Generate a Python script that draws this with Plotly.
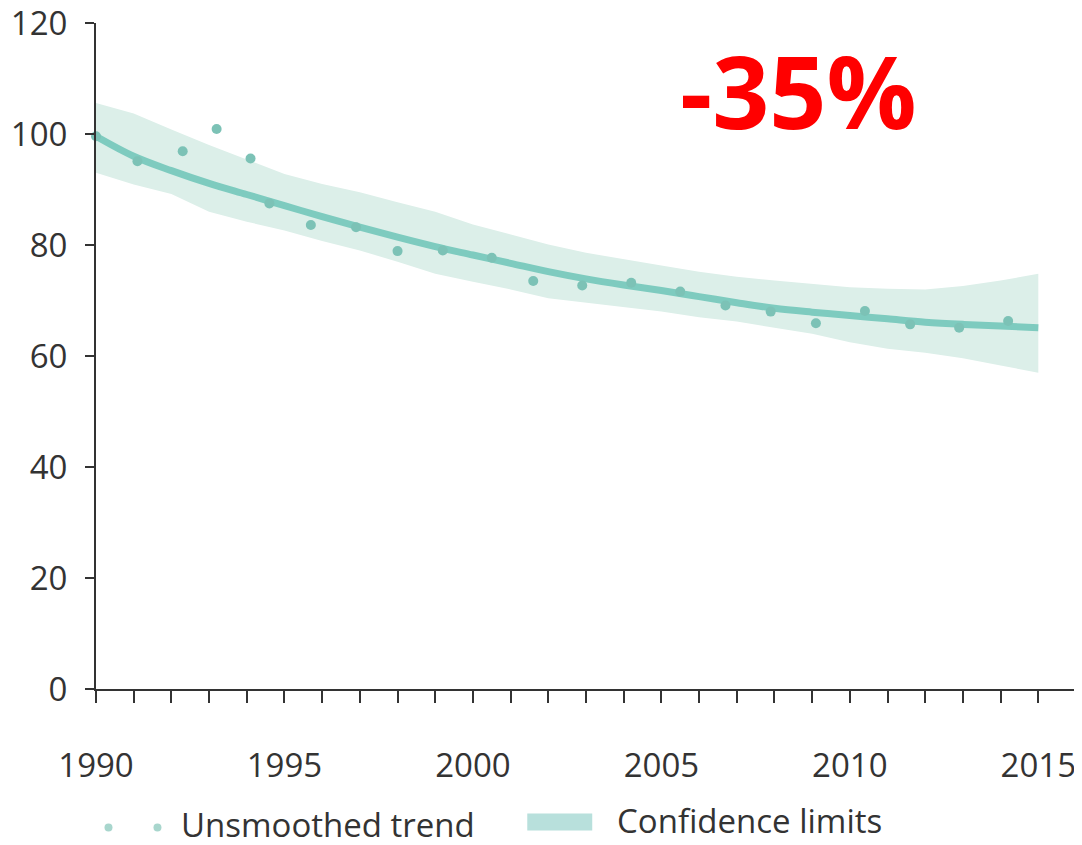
import plotly.graph_objects as go

# ---- data ----
years = list(range(1990, 2016))
trend_smoothed = [99.6, 96.0, 93.4, 91.1, 89.1, 87.1, 85.1, 83.2, 81.4, 79.7,
                  78.2, 76.7, 75.2, 73.9, 72.8, 71.8, 70.7, 69.6, 68.6, 67.9,
                  67.3, 66.7, 66.1, 65.7, 65.4, 65.1]
upper_limit = [105.6, 103.7, 100.8, 98.0, 95.4, 92.8, 91.0, 89.5, 87.7, 86.0,
               83.7, 81.9, 80.1, 78.6, 77.4, 76.3, 75.2, 74.3, 73.6, 73.0,
               72.4, 72.1, 72.0, 72.6, 73.6, 74.8]
lower_limit = [93.0, 90.9, 89.2, 86.0, 84.2, 82.6, 80.7, 79.0, 77.0, 74.8,
               73.4, 72.0, 70.4, 69.6, 68.9, 68.0, 67.0, 66.2, 65.1, 64.0,
               62.5, 61.3, 60.6, 59.6, 58.3, 57.0]
point_years = [1990.0, 1991.1, 1992.3, 1993.2, 1994.1, 1994.6, 1995.7, 1996.9,
               1998.0, 1999.2, 2000.5, 2001.6, 2002.9, 2004.2, 2005.5, 2006.7,
               2007.9, 2009.1, 2010.4, 2011.6, 2012.9, 2014.2]
unsmoothed = [99.6, 95.1, 96.9, 100.9, 95.6, 87.5, 83.6, 83.2, 78.9, 79.0,
              77.7, 73.5, 72.7, 73.2, 71.6, 69.1, 68.0, 65.9, 68.1, 65.7,
              65.1, 66.3]
x_tickvals = [1990, 1995, 2000, 2005, 2010, 2015]
y_tickvals = [0, 20, 40, 60, 80, 100, 120]
legend_labels = ["Unsmoothed trend", "Confidence limits"]
headline = "-35%"

BAND = "#dcefe9"
LINE = "#7ecbbf"
DOT = "#7cc2b6"
AXIS = "#333333"
FONT = "Open Sans"
FS = 33

fig = go.Figure()
fig.add_trace(go.Scatter(x=years, y=upper_limit, mode="lines",
                         line=dict(width=0), hoverinfo="skip", showlegend=False))
fig.add_trace(go.Scatter(x=years, y=lower_limit, mode="lines",
                         line=dict(width=0), fill="tonexty", fillcolor=BAND,
                         hoverinfo="skip", showlegend=False))
fig.add_trace(go.Scatter(x=years, y=trend_smoothed, mode="lines",
                         line=dict(color=LINE, width=7, shape="spline"),
                         showlegend=False))
fig.add_trace(go.Scatter(x=point_years, y=unsmoothed, mode="markers",
                         marker=dict(color=DOT, size=10), cliponaxis=False,
                         showlegend=False))

# page body has an 8px default margin: work in window pixels, shift by OFF
OFF = 8
W, H = 1082 - OFF, 845 - OFF
L, R, T, B = 95.5 - OFF, 1076.0 - OFF, 23.0 - OFF, 689.5 - OFF

def px(x):
    return (x - OFF - L) / (R - L)

def py(y):
    return (B - (y - OFF)) / (B - T)

# manual legend
shapes = []
for cx in (108, 157):
    shapes.append(dict(type="circle", xref="paper", yref="paper",
                       xsizemode="pixel", ysizemode="pixel",
                       xanchor=px(cx), yanchor=py(828),
                       x0=-4, x1=4, y0=-4, y1=4,
                       fillcolor="#a8d6cd", line=dict(width=0)))
shapes.append(dict(type="rect", xref="paper", yref="paper",
                   x0=px(527), x1=px(592), y0=py(831), y1=py(814),
                   fillcolor="#b8e0dc", line=dict(width=0)))

annotations = [
    dict(text=legend_labels[0], xref="paper", yref="paper", x=px(180), y=py(825),
         xanchor="left", yanchor="middle", showarrow=False, borderpad=0,
         font=dict(family=FONT, size=FS, color=AXIS)),
    dict(text=legend_labels[1], xref="paper", yref="paper", x=px(616), y=py(821),
         xanchor="left", yanchor="middle", showarrow=False, borderpad=0,
         font=dict(family=FONT, size=FS, color=AXIS)),
    dict(text="<b>" + headline + "</b>", xref="paper", yref="paper", x=px(798), y=py(90),
         xanchor="center", yanchor="middle", showarrow=False,
         font=dict(family=FONT, size=100, color="#ff0000")),
]

fig.update_layout(
    width=W, height=H,
    margin=dict(l=L, r=W - R, t=T, b=H - B, pad=0, autoexpand=False),
    plot_bgcolor="white", paper_bgcolor="white",
    showlegend=False,
    shapes=shapes, annotations=annotations,
    font=dict(family=FONT, size=FS, color=AXIS),
)
fig.update_xaxes(range=[1990, 2016], showgrid=False, zeroline=False,
                 showline=True, linecolor=AXIS, linewidth=2, automargin=False,
                 ticklabeloverflow="allow",
                 tickmode="array", tickvals=x_tickvals, ticktext=[str(v) for v in x_tickvals],
                 ticks="outside", ticklen=12, tickwidth=2, tickcolor=AXIS,
                 ticklabelstandoff=34,
                 minor=dict(dtick=1, tick0=1990, ticks="outside", ticklen=12,
                            tickwidth=2, tickcolor=AXIS, showgrid=False))
fig.update_yaxes(range=[0, 120], showgrid=False, zeroline=False,
                 showline=True, linecolor=AXIS, linewidth=2, automargin=False,
                 ticklabeloverflow="allow",
                 tickmode="array", tickvals=y_tickvals,
                 ticks="outside", ticklen=9, tickwidth=2, tickcolor=AXIS,
                 ticklabelstandoff=11)

fig.write_html("out.html")
